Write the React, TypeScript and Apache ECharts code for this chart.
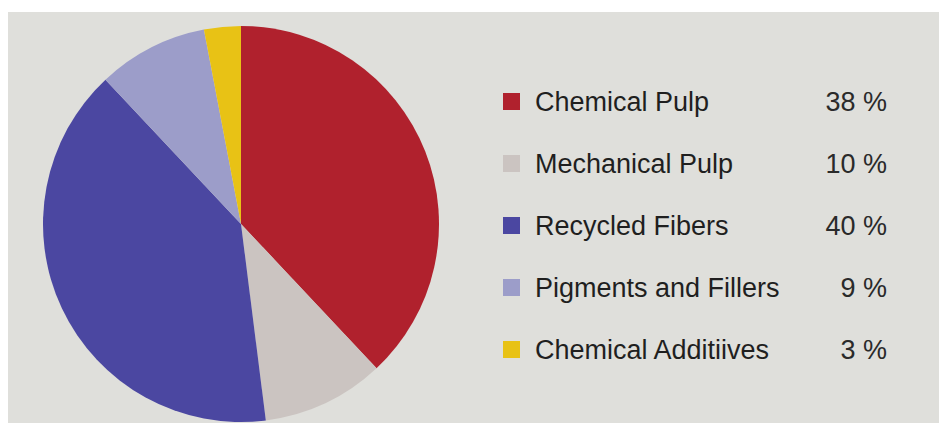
import React, { useEffect, useRef } from "react";
import * as echarts from "echarts";

const categories = [
  "Chemical Pulp",
  "Mechanical Pulp",
  "Recycled Fibers",
  "Pigments and Fillers",
  "Chemical Additiives",
];
const shares = [38, 10, 40, 9, 3];
const colors = ["#b0212d", "#cbc4c1", "#4b47a1", "#9c9dc9", "#e8c215"];

export default function App() {
  const ref = useRef<HTMLDivElement>(null);
  useEffect(() => {
    if (!ref.current) return;
    const chart = echarts.init(ref.current, undefined, { renderer: "svg" });
    const data = categories.map((name, i) => ({
      name,
      value: shares[i],
      itemStyle: { color: colors[i] },
    }));
    const font = "Liberation Sans, Arial, sans-serif";
    chart.setOption({
      animation: false,
      backgroundColor: "#dfdfdb",
      legend: {
        orient: "vertical",
        left: 490,
        top: 71,
        itemWidth: 17,
        itemHeight: 17,
        itemGap: 35,
        icon: "rect",
        data: categories,
        formatter: (name: string) => {
          const i = categories.indexOf(name);
          return `{a|${name}}{b|${shares[i]} %}`;
        },
        textStyle: {
          color: "#1f1f1f",
          fontFamily: font,
          fontSize: 27,
          lineHeight: 27,
          rich: {
            a: {
              fontSize: 27,
              lineHeight: 27,
              color: "#1f1f1f",
              fontFamily: font,
              width: 280,
              padding: [0, 0, 0, 10],
            },
            b: {
              fontSize: 27,
              lineHeight: 27,
              color: "#2a2a2a",
              fontFamily: font,
              width: 72,
              align: "right",
            },
          },
        },
      },
      series: [
        {
          type: "pie",
          center: [233, 212],
          radius: 198,
          startAngle: 90,
          clockwise: true,
          label: { show: false },
          labelLine: { show: false },
          emphasis: { disabled: true },
          data,
        },
      ],
    });
    return () => chart.dispose();
  }, []);
  return (
    <div
      ref={ref}
      style={{ position: "fixed", left: 8, top: 12, width: 931, height: 411 }}
    />
  );
}
